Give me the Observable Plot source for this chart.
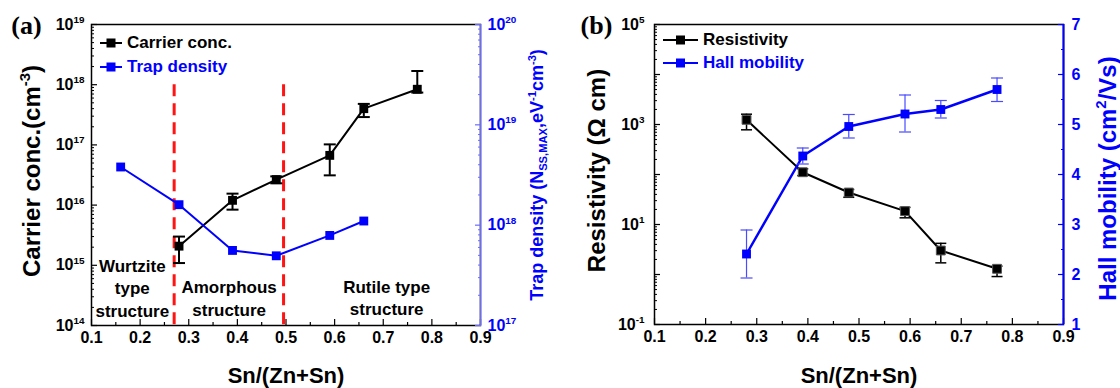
<!DOCTYPE html>
<html><head><meta charset="utf-8">
<script src="https://cdn.jsdelivr.net/npm/d3@7"></script>
<script src="https://cdn.jsdelivr.net/npm/@observablehq/plot@0.6"></script>
<style>
body{margin:0;background:#fff;}
#wrap{position:relative;width:1120px;height:388px;overflow:hidden;font-family:"Liberation Sans",Arial,sans-serif;font-weight:bold;}
.layer{position:absolute;top:0;width:560px;height:388px;}
.layer svg{position:absolute;left:0;top:0;}
.leg{position:absolute;display:flex;align-items:center;height:20px;font-size:17px;white-space:nowrap;}
.leg svg{margin-right:5px;}
</style></head><body><div id="wrap"></div>
<script>
// ---------- data ----------
const carrierX = [0.28, 0.39, 0.48, 0.59, 0.66, 0.77];
const carrier = [2.08e15, 1.2e16, 2.65e16, 6.7e16, 4.0e17, 8.4e17];
const carrierLo = [1.09e15, 8.4e15, 2.3e16, 3.12e16, 2.9e17, 7.4e17];
const carrierHi = [3.0e15, 1.55e16, 3.0e16, 1.02e17, 4.8e17, 1.69e18];
const trapX = [0.16, 0.28, 0.39, 0.48, 0.59, 0.66];
const trap = [3.8e18, 1.6e18, 5.6e17, 4.95e17, 7.9e17, 1.1e18];
const boundaries = [0.27, 0.495];
const regionLabels = ["Wurtzite\ntype\nstructure", "Amorphous\nstructure", "Rutile type\nstructure"];
const regionX = [0.184, 0.383, 0.707];
const regionY = [4.33e14, 2.93e14, 3.0e14];

const sampleX = [0.28, 0.39, 0.48, 0.59, 0.66, 0.77];
const resistivity = [1240, 111, 43.6, 18.5, 3.02, 1.30];
const resLo = [783, 95, 35, 13.6, 1.71, 0.91];
const resHi = [1607, 130, 50, 22, 4.2, 1.47];
const mobility = [2.41, 4.37, 4.96, 5.21, 5.30, 5.70];
const mobLo = [1.93, 4.21, 4.73, 4.85, 5.13, 5.46];
const mobHi = [2.89, 4.53, 5.20, 5.59, 5.48, 5.93];

// ---------- ticks ----------
const xMajor = [0.1, 0.2, 0.3, 0.4, 0.5, 0.6, 0.7, 0.8, 0.9];
const xMinor = [0.15, 0.25, 0.35, 0.45, 0.55, 0.65, 0.75, 0.85];
const aLeftMajor = [1e14, 1e15, 1e16, 1e17, 1e18, 1e19];
const aRightMajor = [1e17, 1e18, 1e19, 1e20];
const bLeftLabeled = [1e-1, 1e1, 1e3, 1e5];
const bLeftMajor = [1e-1, 1, 10, 100, 1e3, 1e4, 1e5];
const bRightMajor = [1, 2, 3, 4, 5, 6, 7];
const bRightMinor = [1.5, 2.5, 3.5, 4.5, 5.5, 6.5];
function logMinor(k0, k1) { const a = []; for (let k = k0; k < k1; k++) for (let m = 2; m <= 9; m++) a.push(m * Math.pow(10, k)); return a; }

const FONT = '"Liberation Sans", Arial, sans-serif';
const SERIF = '"Liberation Serif", "Times New Roman", serif';
const BLUE = "#0000ff", BLUE_AX = "#6b6bff", BLUE_ERR = "#4a4aff", RED = "#ff1414";
const pow10 = d => `10^{${Math.round(Math.log10(d))}}`;
const blank = () => "";
const capSymbol = {draw(ctx, size) { const r = Math.sqrt(size / Math.PI); ctx.moveTo(-r, 0); ctx.lineTo(r, 0); }};

const carrierRows = carrierX.map((x, i) => ({x, y: carrier[i], lo: carrierLo[i], hi: carrierHi[i]}));
const trapRows = trapX.map((x, i) => ({x, y: trap[i]}));
const resRows = sampleX.map((x, i) => ({x, y: resistivity[i], lo: resLo[i], hi: resHi[i]}));
const mobRows = sampleX.map((x, i) => ({x, y: mobility[i], lo: mobLo[i], hi: mobHi[i]}));

const base = m => ({width: 560, height: 388, marginTop: 24, ...m,
  style: {fontFamily: FONT, fontWeight: "bold", background: "transparent", overflow: "visible", color: "black"}});

function xAxes() {
  return [
    Plot.axisX({ticks: xMajor, tickSize: -6, tickFormat: blank, strokeWidth: 1.2, label: null}),
    Plot.axisX({ticks: xMinor, tickSize: -3, tickFormat: blank, strokeWidth: 1.2, label: null}),
    Plot.axisX({ticks: xMajor, tickSize: 0, tickPadding: 6, tickFormat: d3.format(".1f"), fontSize: 16, label: null})
  ];
}
function errMarks(rows, color, w, cap) {
  return [
    Plot.ruleX(rows, {x: "x", y1: "lo", y2: "hi", stroke: color, strokeWidth: w}),
    Plot.dot(rows, {x: "x", y: "hi", symbol: capSymbol, r: cap, stroke: color, strokeWidth: w, fill: "none"}),
    Plot.dot(rows, {x: "x", y: "lo", symbol: capSymbol, r: cap, stroke: color, strokeWidth: w, fill: "none"})
  ];
}
const title = (s, o) => Plot.text([s], {text: d => d, textAnchor: "middle", lineAnchor: "middle", ...o});

// ---------- panel (a) ----------
const aL = Plot.plot({
  ...base({marginLeft: 91, marginRight: 80, marginBottom: 63}),
  x: {domain: [0.1, 0.9], axis: null},
  y: {type: "log", domain: [1e14, 1e19], axis: null},
  marks: [
    ...xAxes(),
    Plot.axisY({ticks: aLeftMajor, tickSize: -6, tickFormat: blank, strokeWidth: 1.2, label: null}),
    Plot.axisY({ticks: logMinor(14, 19), tickSize: -3, tickFormat: blank, strokeWidth: 1, label: null}),
    Plot.axisY({ticks: aLeftMajor, tickSize: 0, tickPadding: 7, tickFormat: pow10, fontSize: 16, label: null}),
    Plot.frame({stroke: "black", strokeWidth: 1.5}),
    Plot.ruleX(boundaries, {x: d => d, y1: 1e18, y2: 1e14, stroke: RED, strokeWidth: 3, strokeDasharray: "12,7"}),
    Plot.text(regionLabels, {x: (d, i) => regionX[i], y: (d, i) => regionY[i], text: d => d, fontSize: 17, lineHeight: 1.32, fill: "black"}),
    Plot.line(carrierRows, {x: "x", y: "y", stroke: "black", strokeWidth: 2}),
    ...errMarks(carrierRows, "black", 2, 6),
    Plot.dot(carrierRows, {x: "x", y: "y", symbol: "square", r: 5, fill: "black"}),
    title("Carrier conc.(cm^{-3})", {frameAnchor: "left", dx: -59, dy: -4, rotate: -90, fontSize: 24, fill: "black"}),
    title("Sn/(Zn+Sn)", {frameAnchor: "bottom", dy: 50, fontSize: 22, fill: "black"}),
    title("(a)", {frameAnchor: "top-left", dx: -65, dy: 1, fontSize: 26, fontFamily: SERIF, fill: "black"})
  ]
});
const aR = Plot.plot({
  ...base({marginLeft: 91, marginRight: 80, marginBottom: 63}),
  x: {domain: [0.1, 0.9], axis: null},
  y: {type: "log", domain: [1e17, 1e20], axis: null},
  marks: [
    Plot.ruleX([0.9], {stroke: BLUE_AX, strokeWidth: 1.5}),
    Plot.axisY({anchor: "right", ticks: aRightMajor, tickSize: -6, tickFormat: blank, stroke: BLUE_AX, strokeWidth: 1.2, label: null}),
    Plot.axisY({anchor: "right", ticks: logMinor(17, 20), tickSize: -3, tickFormat: blank, stroke: BLUE_AX, strokeWidth: 1, label: null}),
    Plot.axisY({anchor: "right", ticks: aRightMajor, tickSize: 0, tickPadding: 7, tickFormat: pow10, fill: BLUE, fontSize: 16, label: null}),
    Plot.line(trapRows, {x: "x", y: "y", stroke: BLUE, strokeWidth: 2}),
    Plot.dot(trapRows, {x: "x", y: "y", symbol: "square", r: 5, fill: BLUE}),
    title("Trap density (N_{SS,MAX},eV^{-1}cm^{-3})", {frameAnchor: "right", dx: 57, rotate: -90, fontSize: 18, fill: BLUE})
  ]
});

// ---------- panel (b) ----------
const bL = Plot.plot({
  ...base({marginLeft: 94, marginRight: 57, marginBottom: 64}),
  x: {domain: [0.1, 0.9], axis: null},
  y: {type: "log", domain: [1e-1, 1e5], axis: null},
  marks: [
    ...xAxes(),
    Plot.axisY({ticks: bLeftMajor, tickSize: -6, tickFormat: blank, strokeWidth: 1.2, label: null}),
    Plot.axisY({ticks: logMinor(-1, 5), tickSize: -3, tickFormat: blank, strokeWidth: 1, label: null}),
    Plot.axisY({ticks: bLeftLabeled, tickSize: 0, tickPadding: 10, tickFormat: pow10, fontSize: 16, label: null}),
    Plot.frame({stroke: "black", strokeWidth: 1.5}),
    Plot.line(resRows, {x: "x", y: "y", stroke: "black", strokeWidth: 2}),
    ...errMarks(resRows, "black", 1.5, 5.5),
    Plot.dot(resRows, {x: "x", y: "y", symbol: "square", r: 5, fill: "black", stroke: "#555", strokeWidth: 1}),
    title("Resistivity (Ω cm)", {frameAnchor: "left", dx: -57, dy: -4, rotate: -90, fontSize: 24, fill: "black"}),
    title("Sn/(Zn+Sn)", {frameAnchor: "bottom", dy: 51, fontSize: 22, fill: "black"}),
    title("(b)", {frameAnchor: "top-left", dx: -58, dy: 1, fontSize: 26, fontFamily: SERIF, fill: "black"})
  ]
});
const bR = Plot.plot({
  ...base({marginLeft: 94, marginRight: 57, marginBottom: 64}),
  x: {domain: [0.1, 0.9], axis: null},
  y: {domain: [1, 7], axis: null},
  marks: [
    Plot.ruleX([0.9], {stroke: BLUE, strokeWidth: 2}),
    Plot.axisY({anchor: "right", ticks: bRightMajor, tickSize: -6, tickFormat: blank, stroke: BLUE, strokeWidth: 1.2, label: null}),
    Plot.axisY({anchor: "right", ticks: bRightMinor, tickSize: -3, tickFormat: blank, stroke: BLUE, strokeWidth: 1, label: null}),
    Plot.axisY({anchor: "right", ticks: bRightMajor, tickSize: 0, tickPadding: 8, tickFormat: d3.format("d"), fill: BLUE, fontSize: 16, label: null}),
    Plot.line(mobRows, {x: "x", y: "y", stroke: BLUE, strokeWidth: 2.5}),
    ...errMarks(mobRows, BLUE_ERR, 1.2, 6),
    Plot.dot(mobRows, {x: "x", y: "y", symbol: "square", r: 5, fill: BLUE}),
    title("Hall mobility (cm^{2}/Vs)", {frameAnchor: "right", dx: 45, dy: 4, rotate: -90, fontSize: 24, fill: BLUE})
  ]
});

// ---------- assemble ----------
const wrap = document.getElementById("wrap");
function layer(left, svgs) {
  const d = document.createElement("div"); d.className = "layer"; d.style.left = left + "px";
  svgs.forEach(s => d.appendChild(s)); wrap.appendChild(d);
}
layer(0, [aL, aR]);
layer(560, [bL, bR]);

function legend(left, top, color, label, lineW) {
  const d = document.createElement("div"); d.className = "leg";
  d.style.left = left + "px"; d.style.top = (top - 10) + "px"; d.style.color = color;
  const c = lineW / 2;
  d.innerHTML = `<svg width="${lineW}" height="20"><line x1="0" x2="${lineW}" y1="10" y2="10" stroke="${color}" stroke-width="2"/><rect x="${c - 4.5}" y="5.5" width="9" height="9" fill="${color}"/></svg><span>${label}</span>`;
  wrap.appendChild(d);
}
legend(100, 43, "black", "Carrier conc.", 22);
legend(100, 67, BLUE, "Trap density", 22);
legend(663, 40, "black", "Resistivity", 35);
legend(663, 63, BLUE, "Hall mobility", 35);

// rich text: ^{...} superscript, _{...} subscript
function richify(root) {
  root.querySelectorAll("text").forEach(t => {
    if (t.querySelector("tspan")) return;
    const s = t.textContent;
    if (!/[\^_]\{/.test(s)) return;
    const fs = parseFloat(getComputedStyle(t).fontSize) || 16;
    const parts = s.split(/([\^_]\{[^}]*\})/).filter(p => p.length);
    t.textContent = "";
    let shift = 0;
    for (const p of parts) {
      const ts = document.createElementNS("http://www.w3.org/2000/svg", "tspan");
      let target = 0, txt = p;
      if (p.startsWith("^{")) { target = -0.42 * fs; txt = p.slice(2, -1); ts.setAttribute("font-size", (0.62 * fs) + "px"); }
      else if (p.startsWith("_{")) { target = 0.22 * fs; txt = p.slice(2, -1); ts.setAttribute("font-size", (0.62 * fs) + "px"); }
      const dy = target - shift;
      if (dy) ts.setAttribute("dy", dy.toFixed(2));
      shift = target;
      ts.textContent = txt;
      t.appendChild(ts);
    }
  });
}
richify(wrap);
</script></body></html>
